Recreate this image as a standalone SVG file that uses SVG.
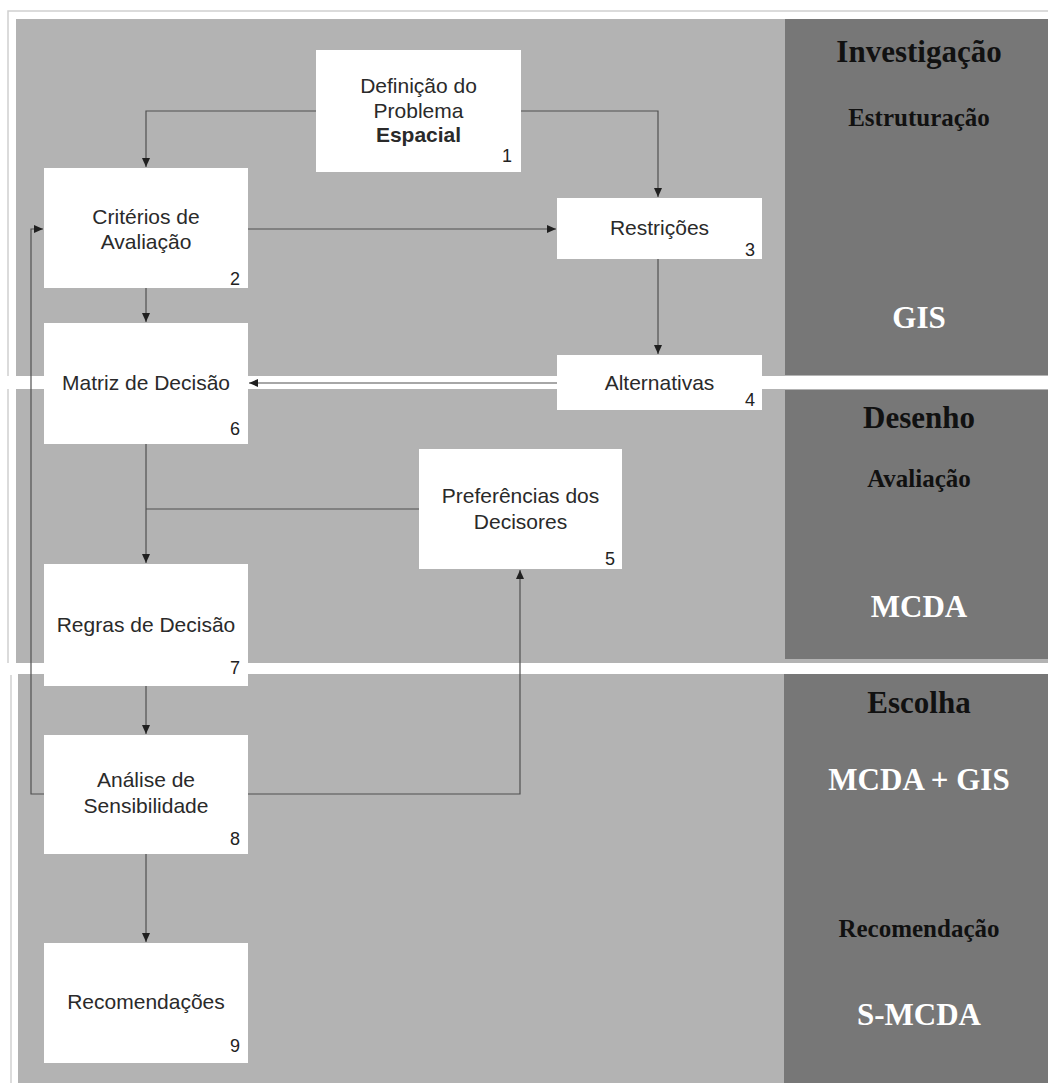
<svg xmlns="http://www.w3.org/2000/svg" width="1048" height="1083" viewBox="0 0 1048 1083">
<style>
.bg{fill:#b3b3b3}
.dark{fill:#777777}
.band{fill:#ffffff}
.box{fill:#ffffff}
.t{font-family:"Liberation Sans",Arial,sans-serif;font-size:21px;fill:#2a2a2a;text-anchor:middle}
.b{font-weight:bold}
.num{font-family:"Liberation Sans",Arial,sans-serif;font-size:18px;fill:#222;text-anchor:end}
.ph{font-family:"Liberation Serif","Times New Roman",serif;font-weight:bold;text-anchor:middle}
.big{font-size:31px}
.sm{font-size:25px}
.k{fill:#111}
.w{fill:#ffffff}
.c{fill:none;stroke:#505050;stroke-width:1.2}
</style>
<defs>
<marker id="ah" markerUnits="userSpaceOnUse" markerWidth="10" markerHeight="10" refX="9" refY="5" orient="auto">
<path d="M0,1 L9,5 L0,9 Z" fill="#202020"/>
</marker>
</defs>
<rect x="0" y="0" width="1048" height="1083" fill="#ffffff"/>
<g id="background">
<path d="M8,663 V11 H1048" fill="none" stroke="#d0d0d0" stroke-width="1.5"/>
<path d="M11,675 V1083" fill="none" stroke="#d0d0d0" stroke-width="1.5"/>
<rect class="bg" x="16" y="19" width="1032" height="357"/>
<rect class="bg" x="16" y="389" width="1032" height="274"/>
<rect class="bg" x="18" y="674" width="1030" height="409"/>
<rect class="dark" x="785" y="19" width="263" height="356"/>
<rect class="dark" x="785" y="390" width="263" height="269"/>
<rect class="dark" x="784" y="673" width="264" height="410"/>
<rect class="band" x="0" y="376" width="1048" height="13"/>
<rect class="band" x="0" y="663" width="1048" height="11"/>
</g>
<g id="phases">
<text class="ph big k" x="919" y="62">Investigação</text>
<text class="ph sm k" x="919" y="126">Estruturação</text>
<text class="ph big w" x="919" y="328">GIS</text>
<text class="ph big k" x="919" y="428">Desenho</text>
<text class="ph sm k" x="919" y="487">Avaliação</text>
<text class="ph big w" x="919" y="617">MCDA</text>
<text class="ph big k" x="919" y="713">Escolha</text>
<text class="ph big w" x="919" y="790">MCDA + GIS</text>
<text class="ph sm k" x="919" y="937">Recomendação</text>
<text class="ph big w" x="919" y="1025">S-MCDA</text>
</g>
<g id="connectors">
<path class="c" d="M316,111 H146 V167" marker-end="url(#ah)"/>
<path class="c" d="M521,111 H658 V197" marker-end="url(#ah)"/>
<path class="c" d="M248,229 H556" marker-end="url(#ah)"/>
<path class="c" d="M146,288 V322" marker-end="url(#ah)"/>
<path class="c" d="M658,259 V354" marker-end="url(#ah)"/>
<path class="c" d="M557,383 H249" marker-end="url(#ah)"/>
<path class="c" d="M146,444 V563" marker-end="url(#ah)"/>
<path class="c" d="M419,509 H146"/>
<path class="c" d="M146,686 V734" marker-end="url(#ah)"/>
<path class="c" d="M146,854 V942" marker-end="url(#ah)"/>
<path class="c" d="M248,794 H520 V570" marker-end="url(#ah)"/>
<path class="c" d="M44,794 H31 V229 H43" marker-end="url(#ah)"/>
</g>
<g id="n1">
<rect class="box" x="316" y="50" width="205" height="122"/>
<text class="t" x="418.5" y="93">Definição do</text>
<text class="t" x="418.5" y="118">Problema</text>
<text class="t b" x="418.5" y="142">Espacial</text>
<text class="num" x="512" y="162">1</text>
</g>
<g id="n2">
<rect class="box" x="44" y="168" width="204" height="120"/>
<text class="t" x="146" y="224">Critérios de</text>
<text class="t" x="146" y="249">Avaliação</text>
<text class="num" x="240" y="285">2</text>
</g>
<g id="n3">
<rect class="box" x="557" y="198" width="205" height="61"/>
<text class="t" x="659.5" y="235">Restrições</text>
<text class="num" x="755" y="256">3</text>
</g>
<g id="n4">
<rect class="box" x="557" y="355" width="205" height="55"/>
<text class="t" x="659.5" y="390">Alternativas</text>
<text class="num" x="755" y="406">4</text>
</g>
<g id="n5">
<rect class="box" x="419" y="449" width="203" height="120"/>
<text class="t" x="520.5" y="503">Preferências dos</text>
<text class="t" x="520.5" y="529">Decisores</text>
<text class="num" x="615" y="565">5</text>
</g>
<g id="n6">
<rect class="box" x="44" y="323" width="204" height="121"/>
<text class="t" x="146" y="390">Matriz de Decisão</text>
<text class="num" x="240" y="435">6</text>
</g>
<g id="n7">
<rect class="box" x="44" y="564" width="204" height="122"/>
<text class="t" x="146" y="632">Regras de Decisão</text>
<text class="num" x="240" y="674">7</text>
</g>
<g id="n8">
<rect class="box" x="44" y="735" width="204" height="119"/>
<text class="t" x="146" y="787">Análise de</text>
<text class="t" x="146" y="813">Sensibilidade</text>
<text class="num" x="240" y="845">8</text>
</g>
<g id="n9">
<rect class="box" x="44" y="943" width="204" height="120"/>
<text class="t" x="146" y="1009">Recomendações</text>
<text class="num" x="240" y="1052">9</text>
</g>
</svg>
